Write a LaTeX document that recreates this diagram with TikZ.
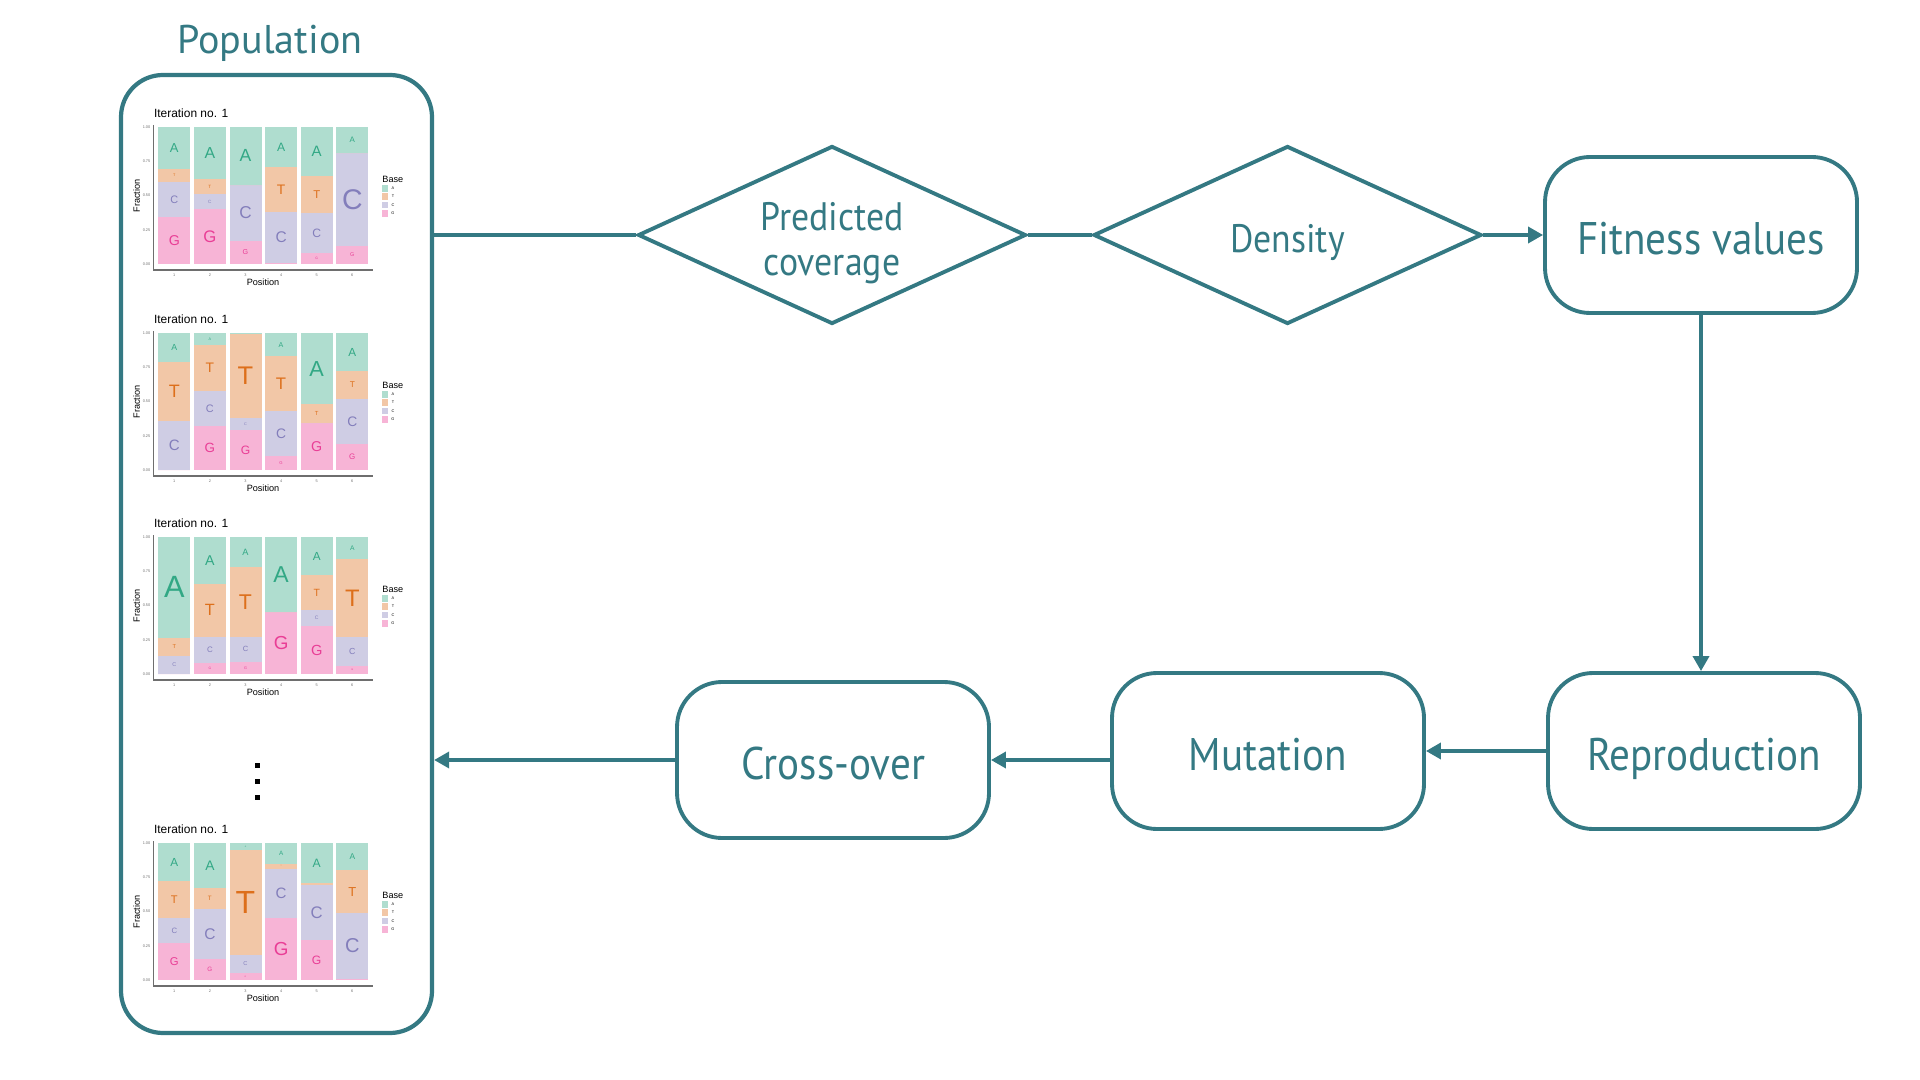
\documentclass[tikz,border=0pt]{standalone}
\usepackage{fontspec}
\usepackage{tikz}
\usetikzlibrary{positioning, shapes.geometric, arrows.meta}
\newfontfamily\titleFont{PT Sans}
\newfontfamily\flowFont[FakeStretch=0.9]{PT Sans}
\newfontfamily\plotFont{Liberation Sans}
\definecolor{flowColor}{RGB}{52,121,131}
\definecolor{baseA}{HTML}{1B9E77}
\definecolor{baseT}{HTML}{D95F02}
\definecolor{baseC}{HTML}{7570B3}
\definecolor{baseG}{HTML}{E7298A}
\definecolor{axisColor}{RGB}{110,110,110}
\tikzstyle{canvas} = [y = -1cm]
\tikzstyle{populationBox} = [draw=flowColor, line width=1.2pt, rounded corners=.42cm, minimum width=3.11cm, minimum height=9.58cm]
\tikzstyle{populationTitle} = [text=flowColor, font=\titleFont\fontsize{11.4}{13}\selectfont]
\tikzstyle{stepBox} = [draw=flowColor, line width=1.1pt, rounded corners=.45cm, minimum width=3.12cm, minimum height=1.56cm, text=flowColor, text height=1.2em, text depth=.08em, font=\flowFont\fontsize{13}{15}\selectfont]
\tikzstyle{testDiamond} = [draw=flowColor, line width=1.1pt, diamond, aspect=2.2, inner sep=0pt, minimum width=3.88cm, minimum height=1.78cm]
\tikzstyle{diamondText} = [text=flowColor, align=center, inner sep=0pt, font=\flowFont\fontsize{11.3}{12.9}\selectfont]
\tikzstyle{flowLine} = [draw=flowColor, line width=1pt]
\tikzstyle{flowArrow} = [flowLine, -{Triangle[length=1.5mm, width=1.6mm]}]
\tikzstyle{plotAxis} = [draw=axisColor, line width=.4pt]
\tikzstyle{plotTitle} = [inner sep=0pt, font=\plotFont\fontsize{3.4}{4}\selectfont]
\tikzstyle{axisTitle} = [inner sep=0pt, font=\plotFont\fontsize{2.6}{3}\selectfont]
\tikzstyle{tickLabel} = [inner sep=0pt, text=axisColor, font=\plotFont\fontsize{1.1}{1.3}\selectfont]
\newcommand{\baseSegment}[5]{
  \fill [base#3!35] (#1, -1.37 * #2) rectangle +(.32, -1.37 * #4);
  \ifdim #4pt > .025pt
    \pgfmathsetmacro{\letterSize}{11.9 * #4}
    \node [inner sep=0pt, text=base#3!90, font=\plotFont\fontsize{\letterSize}{\letterSize}\selectfont] (#5) at (#1 + .16, -1.37 * #2 - .685 * #4) {#3};
  \fi
}
\newcommand{\logoPlot}[3]{
  \begin{scope}[shift={(0, #2)}]
    \draw [plotAxis] (1.533, -1.39) -- (1.533, .06) -- (3.73, .06);
    \node [plotTitle, anchor=base west] (title#1) at (1.533, -1.463) {Iteration no. 1};
    \node [axisTitle, rotate=90] (fraction#1) at (1.367, -.68) {Fraction};
    \node [axisTitle] (position#1) at (2.63, .187) {Position};
    \foreach \tick [count=\k] in {0.00, 0.25, 0.50, 0.75, 1.00} {
      \node [tickLabel, anchor=east] (ytick#1-\k) at (1.51, -1.37 * \tick) {\tick};
    }
    \foreach \gF/\cF/\tF [count=\i] in {#3} {
      \pgfmathsetmacro{\barLeft}{1.583 + .356 * (\i - 1)}
      \pgfmathsetmacro{\tBottom}{\gF + \cF}
      \pgfmathsetmacro{\aBottom}{\gF + \cF + \tF}
      \pgfmathsetmacro{\aF}{1 - \aBottom}
      \baseSegment{\barLeft}{0}{G}{\gF}{g#1-\i}
      \baseSegment{\barLeft}{\gF}{C}{\cF}{c#1-\i}
      \baseSegment{\barLeft}{\tBottom}{T}{\tF}{t#1-\i}
      \baseSegment{\barLeft}{\aBottom}{A}{\aF}{a#1-\i}
      \node [tickLabel] (xtick#1-\i) at (\barLeft + .16, .11) {\i};
    }
    % legend
    \node [axisTitle, anchor=west] (base#1) at (3.817, -.85) {Base};
    \foreach \base/\row in {A/0, T/1, C/2, G/3} {
      \fill [base\base!35] (3.817, -.79 + .083 * \row) rectangle +(.067, .067);
      \node [tickLabel, text=black, anchor=west] (key#1\base) at (3.905, -.757 + .083 * \row) {\base};
    }
  \end{scope}
}

\begin{document}
\begin{tikzpicture}[canvas]
  \useasboundingbox (0,0) rectangle (19.2,10.8);
  % population of logo plots
  \node [populationBox] (population) at (2.765, 5.54) {};
  \node [populationTitle, anchor=base] (populationLabel) at (2.70, .54) {Population};
  \logoPlot{1}{2.64}{.34/.26/.09, .40/.11/.11, .17/.41/0, .01/.37/.33, .08/.29/.27, .13/.68/0}
  \logoPlot{2}{4.70}{0/.36/.43, .32/.26/.33, .29/.09/.61, .10/.33/.40, .34/0/.14, .19/.33/.20}
  \logoPlot{3}{6.74}{0/.13/.135, .08/.19/.39, .09/.18/.51, .45/0/0, .35/.12/.25, .06/.21/.57}
  \logoPlot{4}{9.80}{.27/.185/.265, .15/.37/.15, .05/.135/.765, .45/.36/.04, .29/.40/.02, .01/.48/.31}
  \foreach \dotY in {7.65, 7.81, 7.97} {
    \fill (2.55, \dotY - .025) rectangle +(.05, .05);
  }

  % evaluation and selection
  \node [testDiamond] (coverage) at (8.32, 2.35) {};
  \node [diamondText] (coverageText) at ([yshift=-.08cm] coverage.center) {Predicted\\coverage};
  \node [testDiamond] (density) at (12.875, 2.35) {};
  \node [diamondText] (densityText) at ([yshift=-.08cm] density.center) {Density};
  \node [stepBox] (fitness) at (17.01, 2.35) {Fitness values};
  \node [stepBox] (reproduction) at (17.04, 7.51) {Reproduction};
  \node [stepBox] (mutation) at (12.68, 7.51) {Mutation};
  \node [stepBox] (crossover) at (8.33, 7.60) {Cross-over};

  \draw [flowLine] (population.east |- coverage.west) -- (coverage.west);
  \draw [flowLine] (coverage.east) -- (density.west);
  \draw [flowArrow] (density.east) -- (fitness.west);
  \draw [flowArrow] (fitness.south) -- (fitness.south |- reproduction.north);
  \draw [flowArrow] (reproduction.west) -- (mutation.east);
  \draw [flowArrow] (mutation.west |- crossover.east) -- (crossover.east);
  \draw [flowArrow] (crossover.west) -- (crossover.west -| population.east);
\end{tikzpicture}
\end{document}
